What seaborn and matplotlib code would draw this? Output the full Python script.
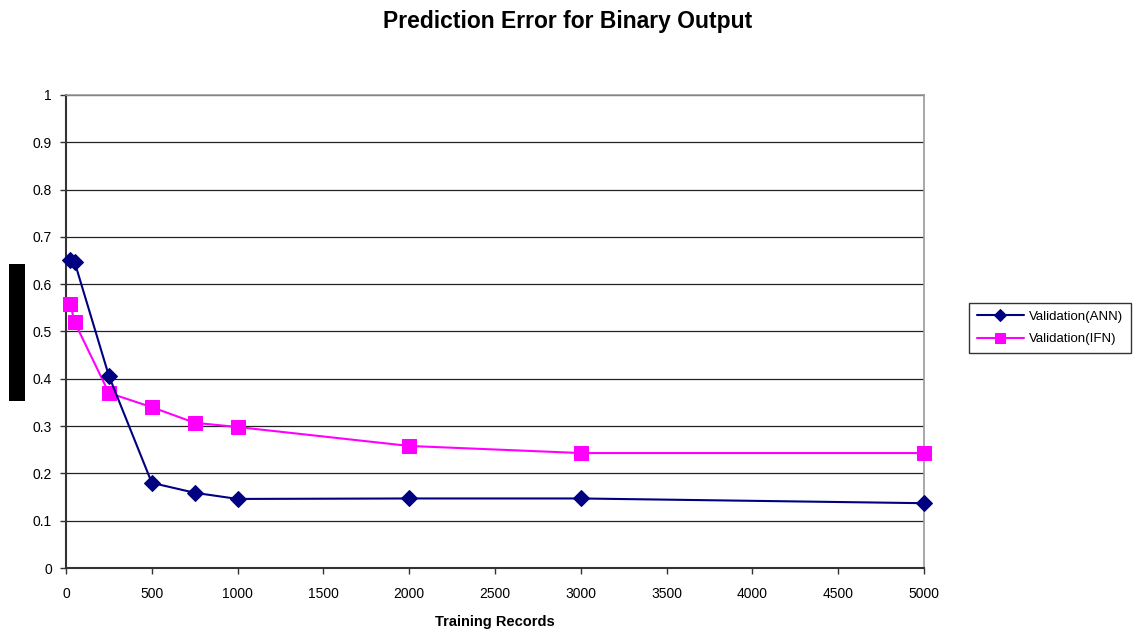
import pandas as pd
import matplotlib.pyplot as plt
import seaborn as sns
from matplotlib.patches import Rectangle

sns.set_theme(style="white")
plt.rcParams['font.family'] = ['Liberation Sans', 'DejaVu Sans']
plt.rcParams['text.color'] = 'black'
plt.rcParams['axes.labelcolor'] = 'black'
plt.rcParams['xtick.color'] = 'black'
plt.rcParams['ytick.color'] = 'black'

records = [25, 50, 250, 500, 750, 1000, 2000, 3000, 5000]
ann_error = [0.651, 0.647, 0.406, 0.180, 0.159, 0.146, 0.147, 0.147, 0.137]
ifn_error = [0.558, 0.520, 0.370, 0.340, 0.307, 0.298, 0.258, 0.243, 0.243]

df = pd.DataFrame({'records': records, 'ANN': ann_error, 'IFN': ifn_error})

fig = plt.figure(figsize=(11.44, 6.35), dpi=100)
ax = fig.add_axes([0.0577, 0.1055, 0.75, 0.745])

sns.lineplot(data=df, x='records', y='ANN', ax=ax, color='#000080', linewidth=1.5,
             marker='D', markersize=8, markeredgecolor='#000080', label='Validation(ANN)',
             clip_on=False, zorder=4)
sns.lineplot(data=df, x='records', y='IFN', ax=ax, color='#FF00FF', linewidth=1.5,
             marker='s', markersize=10, markeredgecolor='#FF00FF', label='Validation(IFN)',
             clip_on=False, zorder=3)

ax.set_xlim(0, 5000)
ax.set_ylim(0, 1)
ax.set_xticks(range(0, 5001, 500))
ax.set_yticks([i / 10 for i in range(11)])
ax.set_yticklabels(['0', '0.1', '0.2', '0.3', '0.4', '0.5', '0.6', '0.7', '0.8', '0.9', '1'])
ax.yaxis.grid(True, color='#222222', linewidth=0.9)
ax.set_axisbelow(True)
ax.tick_params(axis='both', direction='out', length=4, width=1, color='#333333',
               labelsize=10, pad=6)
ax.tick_params(axis='x', pad=10)
ax.tick_params(left=True, bottom=True)

for side in ['left', 'bottom']:
    ax.spines[side].set_color('#333333')
    ax.spines[side].set_linewidth(1.5)
for side in ['top', 'right']:
    ax.spines[side].set_color('#999999')
    ax.spines[side].set_linewidth(1.2)

ax.set_xlabel('Training Records', fontsize=10.5, fontweight='bold', labelpad=10)
ax.set_ylabel('')

fig.suptitle('Prediction Error for Binary Output', fontsize=16.5, fontweight='bold',
             x=0.496, y=0.985)

leg = ax.legend(loc='center left', bbox_to_anchor=(0.841, 0.4835), bbox_transform=fig.transFigure,
                fontsize=9.5, frameon=True, fancybox=False, handlelength=3.6,
                borderpad=0.6, labelspacing=0.75, handletextpad=0.4, markerscale=0.75)
leg.get_frame().set_edgecolor('black')
leg.get_frame().set_linewidth(1.0)

# black block left of the y axis
fig.patches.append(Rectangle((9 / 1144, 1 - 401 / 635), 16 / 1144, 137 / 635,
                             transform=fig.transFigure, facecolor='black', edgecolor='none'))

fig.savefig('out.png', dpi=100)
